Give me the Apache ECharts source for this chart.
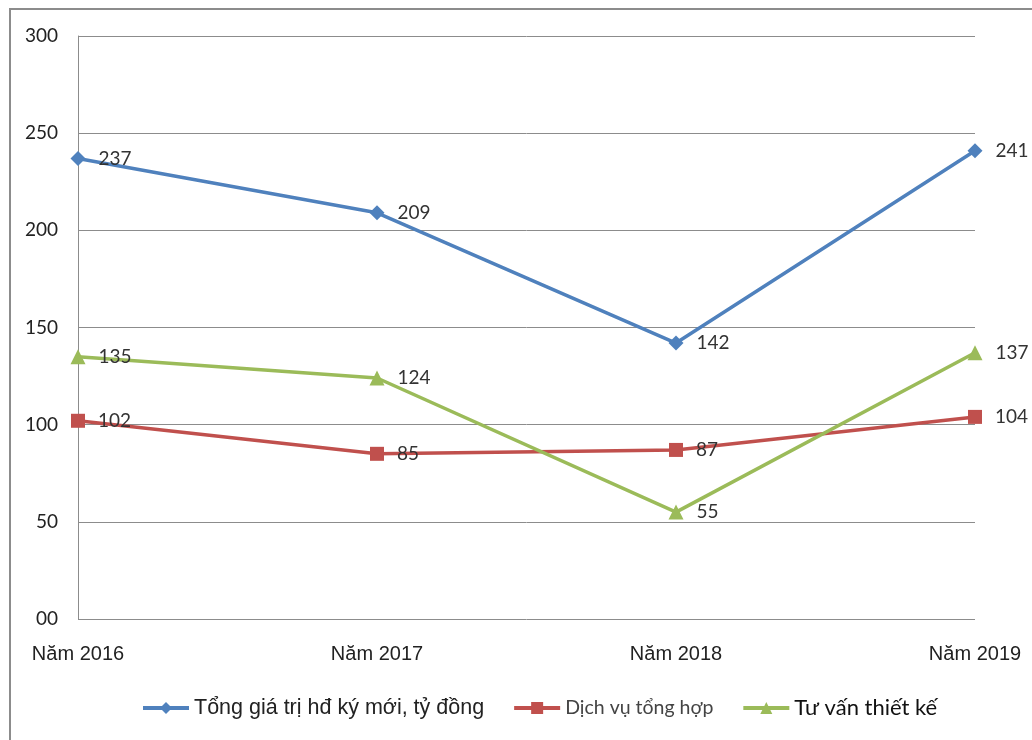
<!DOCTYPE html>
<html>
<head>
<meta charset="utf-8">
<script src="https://cdn.jsdelivr.net/npm/echarts@6/dist/echarts.min.js"></script>
<style>
	html,body{margin:0;padding:0;background:#fff;}
	#frame{position:absolute;left:9px;top:8px;width:1040px;height:760px;border-left:2px solid #8c8c8c;border-top:2px solid #8c8c8c;}
	#main{position:absolute;left:0;top:0;width:1032px;height:740px;}
</style>
</head>
<body>
<div id="frame"></div>
<div id="main"></div>
<script>
	var years = ['Năm 2016', 'Năm 2017', 'Năm 2018', 'Năm 2019'];
	var tongGiaTri = [237, 209, 142, 241];
	var dichVu = [102, 85, 87, 104];
	var tuVan = [135, 124, 55, 137];
	var names = ['Tổng giá trị hđ ký mới, tỷ đồng', 'Dịch vụ tổng hợp', 'Tư vấn thiết kế'];

	var numFont = 'Lato, "Open Sans", sans-serif';
	var lbl = {show: true, position: 'right', distance: 13, color: '#333', fontSize: 19, fontFamily: numFont};

	var myChart = echarts.init(document.getElementById('main'));
	var option = {
	    animation: false,
	    grid: {left: 78, right: 57, top: 36, bottom: 121},
	    legend: {
	        bottom: 16,
	        left: 136,
	        itemWidth: 46,
	        itemHeight: 15,
	        itemGap: 28,
	        lineStyle: {width: 4},
	        textStyle: {fontSize: 21.5, color: '#222', fontFamily: '"Liberation Sans", Arial, sans-serif'},
	        data: [
	            {name: names[0]},
	            {name: names[1], textStyle: {fontFamily: numFont, fontSize: 19.5, color: '#444'}},
	            {name: names[2], textStyle: {fontFamily: numFont, fontSize: 22, color: '#111'}}
	        ]
	    },
	    xAxis: {
	        type: 'category',
	        boundaryGap: false,
	        data: years,
	        axisLine: {show: false},
	        axisTick: {show: false},
	        axisLabel: {color: '#222', fontSize: 20, margin: 25, fontFamily: '"Liberation Sans", Arial, sans-serif'},
	        splitLine: {show: false}
	    },
	    yAxis: {
	        type: 'value',
	        min: 0,
	        max: 300,
	        interval: 50,
	        axisLine: {show: true, lineStyle: {color: '#8c8c8c', width: 1}},
	        axisTick: {show: false},
	        axisLabel: {
	            color: '#222', fontSize: 19, margin: 20, fontFamily: numFont,
	            formatter: function (v) { return v === 0 ? '00' : v; }
	        },
	        splitLine: {lineStyle: {color: '#8c8c8c', width: 1}}
	    },
	    series: [{
	        name: names[0],
	        type: 'line',
	        data: tongGiaTri,
	        symbol: 'diamond',
	        symbolSize: 15,
	        lineStyle: {width: 3.5, color: '#4F81BD'},
	        itemStyle: {color: '#4F81BD'},
	        label: lbl
	    }, {
	        name: names[1],
	        type: 'line',
	        data: dichVu,
	        symbol: 'rect',
	        symbolSize: 14,
	        lineStyle: {width: 3.5, color: '#C0504D'},
	        itemStyle: {color: '#C0504D'},
	        label: lbl
	    }, {
	        name: names[2],
	        type: 'line',
	        data: tuVan,
	        symbol: 'triangle',
	        symbolSize: 15,
	        lineStyle: {width: 3.5, color: '#9BBB59'},
	        itemStyle: {color: '#9BBB59'},
	        label: lbl
	    }]
	};
	myChart.setOption(option);
</script>
</body>
</html>
